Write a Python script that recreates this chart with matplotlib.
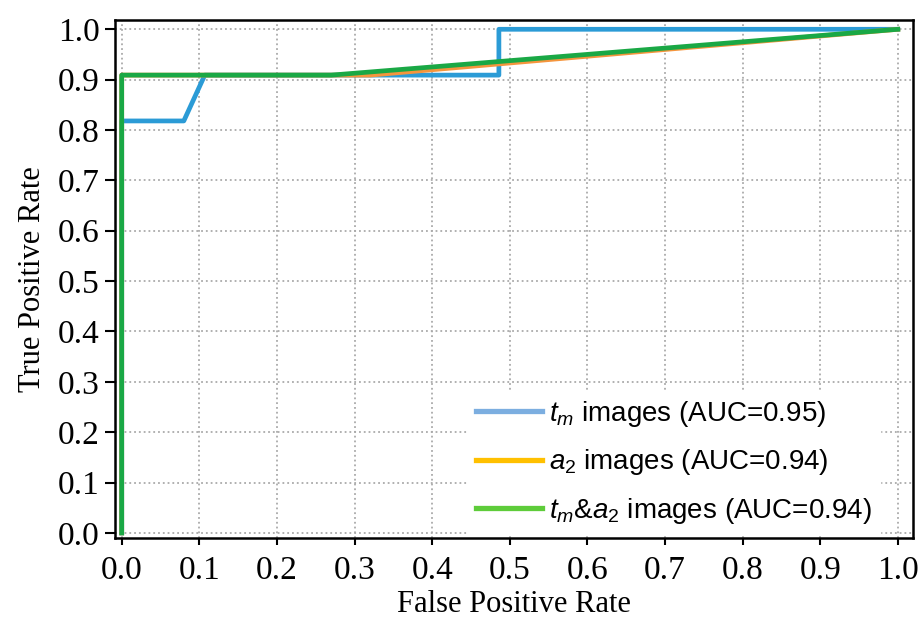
import matplotlib.pyplot as plt
from matplotlib.lines import Line2D

# ROC curve points
fpr_tm = [0.0, 0.0, 0.08, 0.107, 0.486, 0.486, 1.0]
tpr_tm = [0.0, 0.818, 0.818, 0.909, 0.909, 1.0, 1.0]

fpr_a2 = [0.0, 0.0, 0.32, 1.0]
tpr_a2 = [0.0, 0.909, 0.909, 1.0]

fpr_both = [0.0, 0.0, 0.27, 1.0]
tpr_both = [0.0, 0.909, 0.909, 1.0]

labels = [r"$t_m$ images (AUC=0.95)",
          r"$a_2$ images (AUC=0.94)",
          r"$t_m$&$a_2$ images (AUC=0.94)"]

plt.rcParams['mathtext.fontset'] = 'custom'
plt.rcParams['mathtext.it'] = 'Liberation Sans:italic'
plt.rcParams['mathtext.rm'] = 'Liberation Sans'

fig = plt.figure(figsize=(9.21, 6.2), dpi=100)
ax = fig.add_axes([0.1249, 0.1315, 0.8665, 0.8363])

ax.plot(fpr_tm, tpr_tm, color='#2b9bd6', lw=3.4, zorder=3)
ax.plot(fpr_a2, tpr_a2, color='#f5953d', lw=3.4, zorder=4)
ax.plot(fpr_both, tpr_both, color='#1aa845', lw=3.4, zorder=5)

ax.set_xlim(-0.0086, 1.0197)
ax.set_ylim(-0.011, 1.0185)
ax.set_xticks([i / 10 for i in range(11)])
ax.set_yticks([i / 10 for i in range(11)])
ax.set_xticklabels([f"{i / 10:.1f}" for i in range(11)])
ax.set_yticklabels([f"{i / 10:.1f}" for i in range(11)])

serif = ['Liberation Serif', 'DejaVu Serif']
for t in ax.get_xticklabels() + ax.get_yticklabels():
    t.set_fontfamily(serif)
    t.set_fontsize(24)

ax.tick_params(direction='out', width=1.5, top=False, right=False)
ax.tick_params(axis='x', length=5, pad=7)
ax.tick_params(axis='y', length=7, pad=4)
for s in ax.spines.values():
    s.set_linewidth(1.8)

ax.grid(True, linestyle=':', color='#aaaaaa', lw=1.3)

ax.set_xlabel('False Positive Rate', fontsize=22, family=serif, labelpad=3)
ax.set_ylabel('True Positive Rate', fontsize=22, family=serif, labelpad=8)

handles = [Line2D([], [], color='#7caee0', lw=3.8),
           Line2D([], [], color='#ffc000', lw=3.8),
           Line2D([], [], color='#5ecc3a', lw=3.8)]
leg = ax.legend(handles, labels, loc='center', bbox_to_anchor=(0.700, 0.147),
                prop={'family': 'Liberation Sans', 'size': 20},
                handlelength=2.4, labelspacing=0.66, handletextpad=0.25,
                borderpad=0.3, fancybox=False, framealpha=1)
leg.get_frame().set_edgecolor('white')
leg.set_zorder(10)

fig.savefig('out.png', dpi=100)
